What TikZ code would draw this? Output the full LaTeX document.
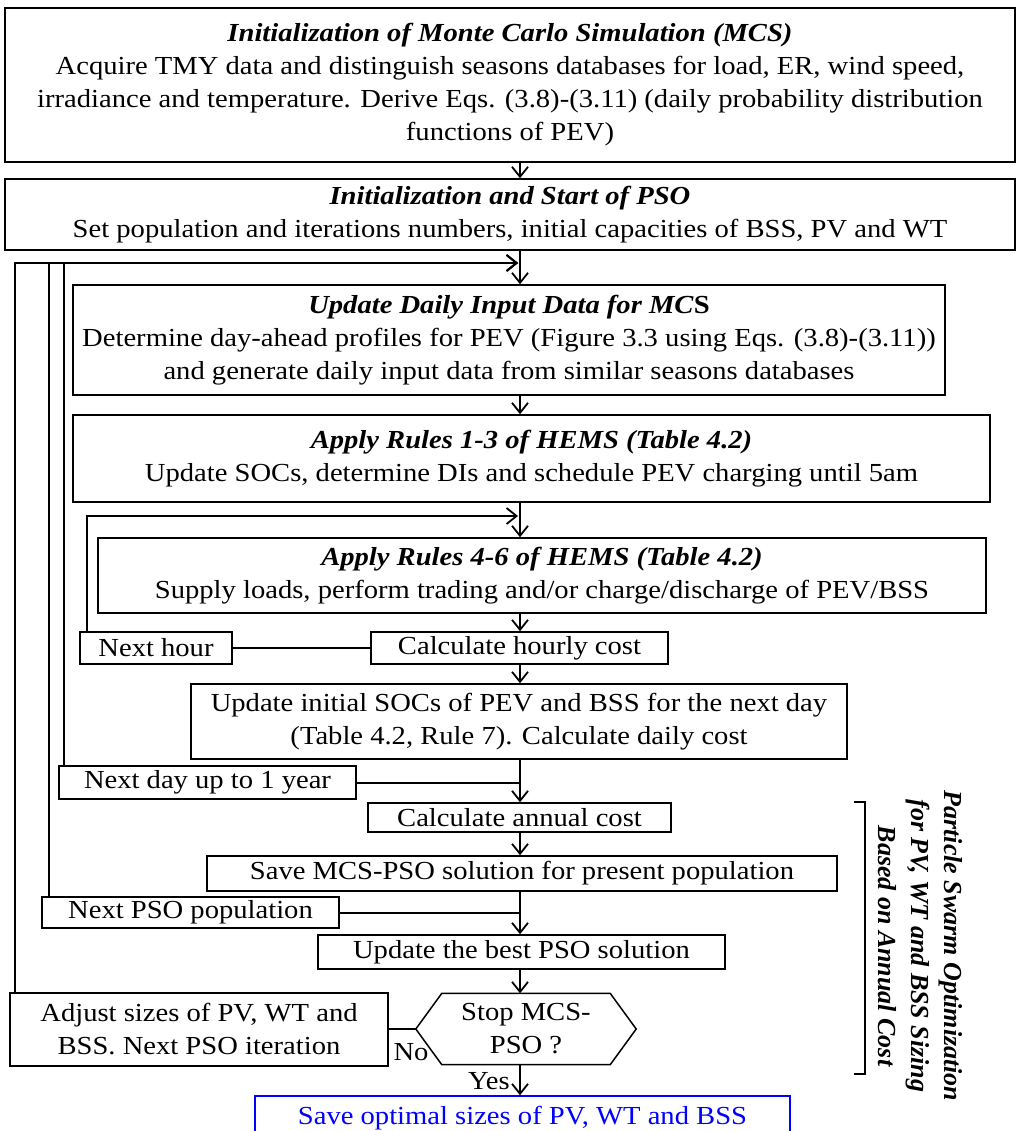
\documentclass[tikz,border=0pt]{standalone}
\usepackage{fontspec}
\setmainfont[FakeStretch=1.1]{Liberation Serif}
\newfontfamily\sidefont{Liberation Serif}
\usetikzlibrary{arrows.meta}
\begin{document}
\begin{tikzpicture}[x=1pt,y=-1pt,
  txt/.style={font=\fontsize{26}{33}\selectfont},
  box/.style={draw,line width=1.5pt,inner sep=0pt,align=center,txt},
  flow/.style={line width=2pt,-{Straight Barb[length=10pt,width=16pt,line width=1.8pt]}},
  link/.style={line width=2pt},
  ttl/.style={font=\sidefont\fontsize{26}{33}\selectfont\bfseries\itshape}]
\useasboundingbox (0,0) rectangle (1019,1131);
\clip (0,0) rectangle (1019,1131);
\coordinate (ax) at (520,0);

% main column
\node[box,minimum width=1010pt,minimum height=154pt] (mcs) at (510,85)
  {\textbf{\textit{Initialization of Monte Carlo Simulation (MCS)}}\\
   Acquire TMY data and distinguish seasons databases for load, ER, wind speed,\\
   irradiance and temperature. Derive Eqs. (3.8)-(3.11) (daily probability distribution\\
   functions of PEV)};
\node[box,minimum width=1010pt,minimum height=71pt] (pso) at (510,214.5)
  {\textbf{\textit{Initialization and Start of PSO}}\\
   Set population and iterations numbers, initial capacities of BSS, PV and WT};
\node[box,minimum width=872pt,minimum height=110pt] (upd) at (509,340)
  {\textbf{\textit{Update Daily Input Data for MC}S}\\
   Determine day-ahead profiles for PEV (Figure 3.3 using Eqs. (3.8)-(3.11))\\
   and generate daily input data from similar seasons databases};
\node[box,minimum width=917pt,minimum height=87pt] (r13) at (531.5,458.5)
  {\textbf{\textit{Apply Rules 1-3 of HEMS (Table 4.2)}}\\
   Update SOCs, determine DIs and schedule PEV charging until 5am};
\node[box,minimum width=888pt,minimum height=75pt] (r46) at (542,575.5)
  {\textbf{\textit{Apply Rules 4-6 of HEMS (Table 4.2)}}\\
   Supply loads, perform trading and/or charge/discharge of PEV/BSS};
\node[box,minimum width=297pt,minimum height=32pt] (hourly) at (519.5,648) {Calculate hourly cost};
\node[box,minimum width=656pt,minimum height=75pt] (soc) at (519,721.5)
  {Update initial SOCs of PEV and BSS for the next day\\
   (Table 4.2, Rule 7). Calculate daily cost};
\node[box,minimum width=303pt,minimum height=29pt] (annual) at (519.5,817.5) {Calculate annual cost};
\node[box,minimum width=630pt,minimum height=35pt] (savep) at (522,873.5) {Save MCS-PSO solution for present population};
\node[box,minimum width=407pt,minimum height=34pt] (best) at (521.5,952) {Update the best PSO solution};
\node[align=center,txt,inner sep=0pt,minimum width=220pt,minimum height=71pt] (stop) at (526,1029)
  {Stop MCS-\\PSO ?};
\draw[line width=1.5pt] (stop.west) -- ([xshift=26pt]stop.north west) -- ([xshift=-26pt]stop.north east)
  -- (stop.east) -- ([xshift=-26pt]stop.south east) -- ([xshift=26pt]stop.south west) -- cycle;
\node[box,draw=blue,text=blue,minimum width=535pt,minimum height=44pt] (final) at (522.5,1118)
  {Save optimal sizes of PV, WT and BSS};

% side boxes
\node[box,minimum width=152pt,minimum height=32pt] (nexth) at (156,648) {Next hour};
\node[box,minimum width=297pt,minimum height=33pt] (nextd) at (207.5,782.5) {Next day up to 1 year};
\node[box,minimum width=297pt,minimum height=31pt] (nextp) at (190.5,912.5) {Next PSO population};
\node[box,minimum width=378pt,minimum height=73pt] (adjust) at (199,1029.5)
  {Adjust sizes of PV, WT and\\BSS. Next PSO iteration};

% loop entry points
\coordinate (j1) at (520,263);
\coordinate (j2) at (520,516);

% forward connectors
\draw[flow] (mcs.south -| ax) -- (pso.north -| ax);
\draw[flow] (pso.south -| ax) -- (upd.north -| ax);
\draw[flow] (upd.south -| ax) -- (r13.north -| ax);
\draw[flow] (r13.south -| ax) -- (r46.north -| ax);
\draw[flow] (r46.south -| ax) -- (hourly.north -| ax);
\draw[flow] (hourly.south -| ax) -- (soc.north -| ax);
\draw[flow] (soc.south -| ax) -- (annual.north -| ax);
\draw[flow] (annual.south -| ax) -- (savep.north -| ax);
\draw[flow] (savep.south -| ax) -- (best.north -| ax);
\draw[flow] (best.south -| ax) -- (stop.north -| ax);
\draw[flow] (stop.south -| ax) -- (final.north -| ax);

% feedback loops
\draw[link] (nexth) -- (hourly);
\draw[flow] ([xshift=8pt]nexth.north west) |- ([xshift=-2pt]j2);
\draw[link] (nextd.east) -- (nextd.east -| ax);
\draw[flow] ([xshift=6pt]nextd.north west) |- ([xshift=-2pt]j1);
\draw[link] (nextp.east) -- (nextp.east -| ax);
\draw[flow] ([xshift=8pt]nextp.north west) |- ([xshift=-2pt]j1);
\draw[link] (stop.west) -- (stop.west -| adjust.east);
\draw[flow] ([xshift=6pt]adjust.north west) |- ([xshift=-2pt]j1);

% branch labels
\node[txt,inner sep=0pt] (no) at (411,1052) {No};
\node[txt,inner sep=0pt] (yes) at (489,1081) {Yes};

% bracket and side caption
\node[ttl,rotate=-90,align=center,inner sep=0pt] (side) at (920,946)
  {Particle Swarm Optimization\\for PV, WT and BSS Sizing\\Based on Annual Cost};
\draw[line width=1.8pt] (854,802) -- (865,802) -- (865,1074) -- (854,1074);
\end{tikzpicture}
\end{document}
